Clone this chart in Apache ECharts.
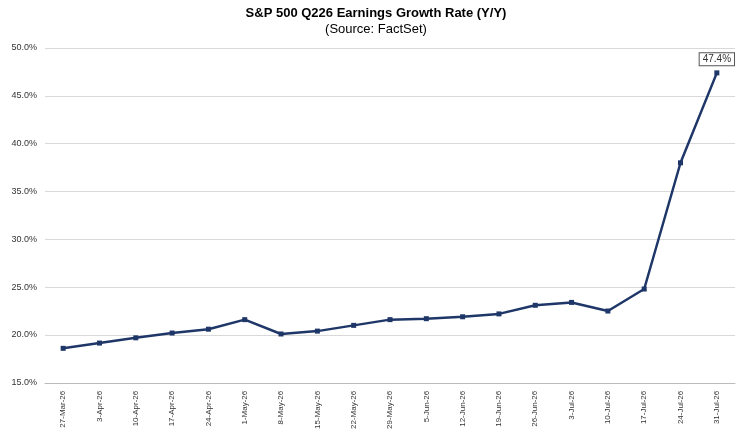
<!DOCTYPE html>
<html><head><meta charset="utf-8">
<script src="https://cdn.jsdelivr.net/npm/echarts@6/dist/echarts.min.js"></script>
<style>html,body{margin:0;background:#fff}#c{width:752px;height:432px}</style>
</head><body><div id="c"></div>
<script>
const categories=["27-Mar-26","3-Apr-26","10-Apr-26","17-Apr-26","24-Apr-26","1-May-26","8-May-26","15-May-26","22-May-26","29-May-26","5-Jun-26","12-Jun-26","19-Jun-26","26-Jun-26","3-Jul-26","10-Jul-26","17-Jul-26","24-Jul-26","31-Jul-26"];
const growth=[18.6,19.15,19.7,20.2,20.6,21.6,20.1,20.4,21.0,21.6,21.7,21.9,22.2,23.1,23.4,22.5,24.8,38.0,47.4];
const last=growth.length-1;
const seriesData=growth.map((v,i)=>i===last?{value:v,label:{show:true}}:v);
const chart=echarts.init(document.getElementById('c'));
chart.setOption({
 animation:false,
 title:{text:'S&P 500 Q226 Earnings Growth Rate (Y/Y)',subtext:'(Source: FactSet)',left:'center',top:2,itemGap:3,
  textStyle:{fontFamily:'Liberation Sans',fontSize:13,fontWeight:'bold',color:'#000'},
  subtextStyle:{fontFamily:'Liberation Sans',fontSize:13,color:'#000'}},
 grid:{left:45,right:17,top:48,bottom:47},
 xAxis:{type:'category',data:categories,boundaryGap:true,
  axisLine:{lineStyle:{color:'#bbb'}},axisTick:{show:false},
  axisLabel:{rotate:90,fontSize:8,color:'#333',fontFamily:'Liberation Sans',interval:0}},
 yAxis:{type:'value',min:15,max:50,interval:5,
  axisLabel:{formatter:v=>v.toFixed(1)+'%',fontSize:9,color:'#333',fontFamily:'Liberation Sans'},
  splitLine:{lineStyle:{color:'#d9d9d9'}},axisLine:{show:false},axisTick:{show:false}},
 series:[{type:'line',data:seriesData,symbol:'rect',symbolSize:5,
  lineStyle:{color:'#1f3768',width:2.5},itemStyle:{color:'#1f3768'},
  label:{show:false,formatter:p=>p.value.toFixed(1)+'%',
   position:'top',fontSize:10,color:'#333',borderColor:'#555',borderWidth:1,padding:[1,3],backgroundColor:'#fff'}}]
});
</script></body></html>
